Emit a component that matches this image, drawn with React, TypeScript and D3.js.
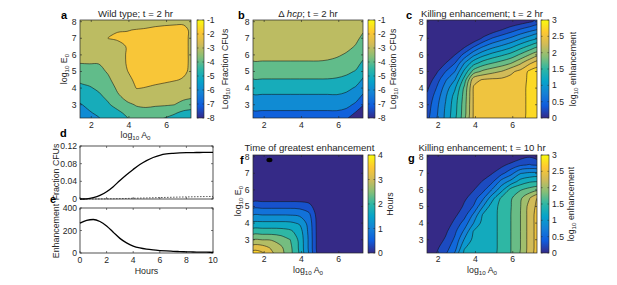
import React from 'react';
import * as d3 from 'd3';

const FONT = "'Liberation Sans', Arial, Helvetica, sans-serif";

// ---------- grid nodes (log10 A0 columns, log10 E0 rows bottom->top) ----------
const LOGA_NODES = [1.4, 1.9, 2.4, 2.9, 3.4, 3.9, 4.4, 4.9, 5.4, 5.9, 6.4, 6.9, 7.4];
const LOGE_NODES = [2.0, 2.5, 3.0, 3.5, 4.0, 4.5, 5.0, 5.5, 6.0, 6.5, 7.0, 7.5, 8.0];
const LOGA_DOMAIN = [1.4, 7.3];
const LOGE_DOMAIN = [2.2, 8.1];
const X_TICKS = [2, 4, 6];
const Y_TICKS = [3, 4, 5, 6, 7, 8];

// a: wild type, log10 fraction CFUs, t = 2 hr
const WT_CFU = [
  [-5.9, -5.44, -5.2, -4.73, -4.76, -4.2, -3.6, -3.5, -3.9, -4.3, -4.6, -4.9, -5.0],
  [-5.5, -5.1, -4.81, -4.42, -4.22, -3.8, -3.25, -3.2, -3.4, -3.57, -3.88, -4.27, -4.4],
  [-5.08, -4.76, -4.48, -4.1, -3.67, -3.15, -2.95, -2.9, -2.9, -2.92, -2.99, -3.29, -3.6],
  [-4.67, -4.43, -4.16, -3.79, -3.13, -2.75, -2.4, -2.4, -2.5, -2.56, -2.65, -2.76, -2.85],
  [-4.25, -4.09, -3.85, -3.47, -2.85, -2.45, -1.98, -2.02, -2.1, -2.2, -2.3, -2.4, -2.5],
  [-3.83, -3.72, -3.56, -3.16, -2.6, -2.2, -1.85, -1.85, -1.85, -1.88, -1.95, -2.05, -2.25],
  [-3.41, -3.35, -3.26, -2.9, -2.45, -2.02, -1.8, -1.75, -1.75, -1.75, -1.8, -1.9, -2.15],
  [-2.99, -2.97, -2.97, -2.65, -2.35, -1.95, -1.75, -1.7, -1.7, -1.72, -1.75, -1.88, -2.12],
  [-2.7, -2.7, -2.7, -2.45, -2.28, -1.95, -1.72, -1.7, -1.7, -1.72, -1.75, -1.88, -2.12],
  [-2.55, -2.5, -2.45, -2.3, -2.25, -1.96, -1.72, -1.7, -1.7, -1.72, -1.75, -1.88, -2.12],
  [-2.45, -2.35, -2.3, -1.99, -1.9, -1.9, -1.8, -1.78, -1.75, -1.75, -1.75, -1.88, -2.12],
  [-2.4, -2.3, -2.2, -2.12, -2.04, -2.02, -1.98, -1.95, -1.9, -1.87, -1.85, -1.88, -2.12],
  [-2.4, -2.3, -2.2, -2.25, -2.2, -2.25, -2.25, -2.2, -2.15, -2.12, -2.1, -2.08, -2.15],
];

// b: delta hcp, log10 fraction CFUs, t = 2 hr
const HCP_CFU = [
  [-6.65, -6.65, -6.65, -6.65, -6.65, -6.65, -6.65, -6.65, -6.65, -6.65, -7.2, -7.8, -8.2],
  [-6.15, -6.15, -6.15, -6.15, -6.15, -6.15, -6.15, -6.15, -6.15, -6.15, -6.3, -7.1, -7.6],
  [-5.64, -5.64, -5.64, -5.64, -5.64, -5.64, -5.64, -5.64, -5.64, -5.62, -5.75, -6.15, -7.1],
  [-5.13, -5.13, -5.13, -5.13, -5.13, -5.13, -5.13, -5.13, -5.13, -5.1, -5.25, -5.6, -6.3],
  [-4.6, -4.6, -4.6, -4.6, -4.6, -4.6, -4.6, -4.6, -4.6, -4.63, -4.75, -5.1, -5.75],
  [-4.05, -4.05, -4.05, -4.05, -4.05, -4.05, -4.05, -4.05, -4.05, -4.1, -4.2, -4.55, -5.25],
  [-3.57, -3.57, -3.57, -3.57, -3.57, -3.57, -3.57, -3.57, -3.6, -3.68, -3.84, -4.05, -4.75],
  [-3.09, -3.09, -3.09, -3.09, -3.09, -3.09, -3.09, -3.09, -3.14, -3.28, -3.48, -3.7, -4.25],
  [-2.75, -2.75, -2.75, -2.75, -2.75, -2.75, -2.75, -2.75, -2.78, -2.88, -3.1, -3.38, -3.85],
  [-2.55, -2.55, -2.55, -2.55, -2.55, -2.55, -2.55, -2.55, -2.57, -2.62, -2.75, -3.06, -3.55],
  [-2.45, -2.45, -2.45, -2.45, -2.45, -2.45, -2.45, -2.45, -2.46, -2.48, -2.55, -2.8, -3.28],
  [-2.4, -2.4, -2.4, -2.4, -2.4, -2.4, -2.4, -2.4, -2.4, -2.42, -2.45, -2.6, -2.95],
  [-2.38, -2.38, -2.38, -2.38, -2.38, -2.38, -2.38, -2.38, -2.38, -2.4, -2.4, -2.5, -2.75],
];

// c: log10 killing enhancement, t = 2 hr
const ENH_2HR = [
  [0.42, 0.71, 1.05, 1.42, 1.89, 2.53, 2.6, 2.6, 2.6, 2.6, 2.6, 2.85, 2.85],
  [0.4, 0.7, 1.05, 1.42, 1.89, 2.53, 2.6, 2.6, 2.6, 2.6, 2.6, 2.85, 2.85],
  [0.36, 0.67, 1.02, 1.4, 1.88, 2.53, 2.6, 2.6, 2.6, 2.6, 2.6, 2.85, 2.85],
  [0.3, 0.6, 0.97, 1.35, 1.85, 2.53, 2.6, 2.6, 2.6, 2.6, 2.6, 2.85, 2.85],
  [0.2, 0.5, 0.87, 1.22, 1.8, 2.53, 2.6, 2.6, 2.6, 2.6, 2.6, 2.85, 2.85],
  [0.08, 0.37, 0.72, 1.0, 1.6, 2.42, 2.52, 2.55, 2.56, 2.58, 2.6, 2.82, 2.85],
  [0, 0.2, 0.5, 0.75, 1.31, 1.86, 2.06, 2.17, 2.26, 2.45, 2.57, 2.8, 2.85],
  [0, 0.02, 0.25, 0.5, 1.0, 1.4, 1.62, 1.75, 1.86, 1.99, 2.21, 2.46, 2.65],
  [0, 0, 0.05, 0.25, 0.58, 0.94, 1.18, 1.34, 1.46, 1.59, 1.79, 2.01, 2.18],
  [0, 0, 0, 0.05, 0.2, 0.48, 0.74, 0.92, 1.05, 1.19, 1.38, 1.56, 1.71],
  [0, 0, 0, 0, 0, 0.05, 0.29, 0.51, 0.65, 0.79, 0.96, 1.12, 1.25],
  [0, 0, 0, 0, 0, 0, 0, 0.1, 0.25, 0.39, 0.54, 0.67, 0.79],
  [0, 0, 0, 0, 0, 0, 0, 0, 0, 0.05, 0.12, 0.22, 0.32],
];

// f: time of greatest enhancement (hours)
const PEAK_TIME = [
  [3.95, 3.8, 3.33, 2.93, 2.51, 1.92, 1.13, 0.2, 0, 0, 0, 0, 0],
  [3.45, 3.4, 3.15, 2.88, 2.5, 1.92, 1.13, 0.2, 0, 0, 0, 0, 0],
  [2.79, 2.79, 2.77, 2.62, 2.4, 1.9, 1.13, 0.2, 0, 0, 0, 0, 0],
  [2.19, 2.19, 2.19, 2.17, 2.08, 1.8, 1.1, 0.2, 0, 0, 0, 0, 0],
  [1.69, 1.69, 1.69, 1.69, 1.67, 1.55, 1.05, 0.2, 0, 0, 0, 0, 0],
  [1.19, 1.19, 1.19, 1.19, 1.18, 1.12, 0.9, 0.18, 0, 0, 0, 0, 0],
  [0.69, 0.69, 0.69, 0.69, 0.69, 0.67, 0.55, 0.12, 0, 0, 0, 0, 0],
  [0.2, 0.2, 0.2, 0.2, 0.2, 0.2, 0.18, 0.05, 0, 0, 0, 0, 0],
  [0, 0, 0, 0, 0, 0, 0, 0, 0, 0, 0, 0, 0],
  [0, 0, 0, 0, 0, 0, 0, 0, 0, 0, 0, 0, 0],
  [0, 0, 0, 0, 0, 0, 0, 0, 0, 0, 0, 0, 0],
  [0, 0, 0, 0, 0, 0, 0, 0, 0, 0, 0, 0, 0],
  [0, 0, 0, 0, 0, 0, 0, 0, 0, 0, 0, 0, 0],
];
const PEAK_DOT = [2.28, 7.8];

// g: log10 killing enhancement, t = 10 hr
const ENH_10HR = [
  [0.1, 0.27, 0.47, 0.85, 1.3, 1.33, 1.36, 1.42, 1.57, 1.75, 1.99, 2.36, 2.65],
  [0.05, 0.2, 0.4, 0.66, 1.24, 1.32, 1.35, 1.42, 1.57, 1.75, 1.99, 2.36, 2.65],
  [0, 0.1, 0.29, 0.55, 1.02, 1.32, 1.35, 1.42, 1.57, 1.75, 1.99, 2.36, 2.65],
  [0, 0.02, 0.2, 0.45, 0.8, 1.27, 1.35, 1.42, 1.57, 1.75, 1.99, 2.36, 2.65],
  [0, 0, 0.1, 0.32, 0.6, 1.0, 1.35, 1.42, 1.57, 1.75, 1.99, 2.36, 2.65],
  [0, 0, 0, 0.2, 0.4, 0.8, 1.28, 1.42, 1.57, 1.75, 1.99, 2.36, 2.65],
  [0, 0, 0, 0.05, 0.3, 0.52, 0.99, 1.4, 1.57, 1.74, 1.98, 2.35, 2.6],
  [0, 0, 0, 0, 0.2, 0.38, 0.7, 1.16, 1.55, 1.72, 1.95, 2.24, 2.56],
  [0, 0, 0, 0, 0.1, 0.24, 0.42, 0.78, 1.17, 1.6, 1.73, 1.85, 1.92],
  [0, 0, 0, 0, 0, 0.12, 0.27, 0.45, 0.85, 1.08, 1.35, 1.47, 1.5],
  [0, 0, 0, 0, 0, 0, 0.12, 0.24, 0.43, 0.66, 0.98, 1.05, 1.05],
  [0, 0, 0, 0, 0, 0, 0, 0.05, 0.18, 0.33, 0.46, 0.52, 0.42],
  [0, 0, 0, 0, 0, 0, 0, 0, 0, 0, 0.15, 0.23, 0.1],
];

// contour levels and colour bar ticks
const CFU_LEVELS = [-7, -6, -5, -4, -3, -2];
const ENH_LEVELS = [0.25, 0.5, 0.75, 1, 1.25, 1.5, 1.75, 2, 2.25, 2.5, 2.75];
const TIME_LEVELS = [0.4, 0.8, 1.2, 1.6, 2.0, 2.4, 2.8, 3.2, 3.6];
const CFU_TICKS = [-1, -2, -3, -4, -5, -6, -7, -8];
const ENH_TICKS = [0, 0.5, 1, 1.5, 2, 2.5, 3];
const TIME_TICKS = [0, 1, 2, 3, 4];

// d, e: time courses
const HOURS = [0, 0.5, 1, 1.5, 2, 2.5, 3, 3.5, 4, 4.5, 5, 5.5, 6, 6.5, 7, 7.5, 8, 8.5, 9, 9.5, 10];
const WT_FRACTION = [0, 0.0005, 0.003, 0.008, 0.0165, 0.028, 0.042, 0.055, 0.067, 0.078, 0.087, 0.094, 0.099, 0.102, 0.1035, 0.1045, 0.105, 0.1052, 0.1053, 0.1054, 0.1055];
const HCP_FRACTION = [0, 0.00005, 0.0001, 0.0002, 0.0004, 0.0006, 0.0009, 0.0012, 0.0016, 0.002, 0.0024, 0.0028, 0.0032, 0.0036, 0.004, 0.0044, 0.0047, 0.005, 0.0053, 0.0056, 0.0058];
const ENHANCEMENT = [265, 290, 298, 280, 240, 185, 130, 90, 62, 45, 34, 27, 22, 18, 15, 12.5, 10.5, 9, 8, 7, 6];
const HOUR_TICKS = [0, 2, 4, 6, 8, 10];
const FRAC_TICKS = [0, 0.04, 0.08, 0.12];
const ENHC_TICKS = [0, 200, 400];

const PARULA = ['#352a87', '#0f5cdd', '#1481d6', '#06a4ca', '#2eb7a4', '#87bf77', '#d1bb59', '#fec832', '#f9fb0e'];
const parulaScale = d3
  .scaleLinear<string>()
  .domain(PARULA.map((_, i) => i / (PARULA.length - 1)))
  .range(PARULA)
  .interpolate(d3.interpolateRgb)
  .clamp(true);

const TICK_FS = 8.6;
const LABEL_FS = 8.8;
const TITLE_FS = 9.6;
const SUB_FS = 6.2;

function LogSub({ name }: { name: string }) {
  return (
    <>
      log
      <tspan dy={2.3} fontSize={SUB_FS}>10</tspan>
      <tspan dy={-2.3}> {name}</tspan>
      <tspan dy={2.3} fontSize={SUB_FS}>0</tspan>
    </>
  );
}

type CP = {
  id: string;
  grid: number[][];
  levels: number[];
  cmin: number;
  cmax: number;
  x: number;
  y: number;
  w: number;
  h: number;
  tickDy: number;
  children?: React.ReactNode;
};

function ContourPlot({ id, grid, levels, cmin, cmax, x, y, w, h, tickDy, children }: CP) {
  const xs = d3.scaleLinear().domain(LOGA_DOMAIN).range([x, x + w]);
  const ys = d3.scaleLinear().domain(LOGE_DOMAIN).range([y + h, y]);
  const n = LOGA_NODES.length;
  const m = LOGE_NODES.length;
  const dx = LOGA_NODES[1] - LOGA_NODES[0];
  const dy = LOGE_NODES[1] - LOGE_NODES[0];
  const values = grid.flat();
  const cs = (d3.contours() as any).size([n, m]).thresholds(levels)(values) as any[];
  const color = (v: number) => parulaScale((v - cmin) / (cmax - cmin));
  const line = d3.line<[number, number]>().curve(d3.curveCatmullRomClosed.alpha(0.5));
  const toPx = (p: number[]): [number, number] => [
    xs(LOGA_NODES[0] + (p[0] - 0.5) * dx),
    ys(LOGE_NODES[0] + (p[1] - 0.5) * dy),
  ];
  const pathFor = (mp: any) =>
    mp.coordinates
      .map((poly: number[][][]) => poly.map((ring) => line(ring.slice(0, -1).map(toPx)) || '').join(''))
      .join('');
  const paths = cs.map((c) => ({ value: c.value as number, d: pathFor(c) }));
  const tl = 2;
  return (
    <g>
      <defs>
        <clipPath id={id}>
          <rect x={x} y={y} width={w} height={h} />
        </clipPath>
      </defs>
      <g clipPath={`url(#${id})`}>
        <rect x={x} y={y} width={w} height={h} fill={color(cmin)} />
        {paths.map((p, i) => (
          <path key={'f' + i} d={p.d} fill={color(p.value)} fillRule="evenodd" />
        ))}
        {paths.map((p, i) => (
          <path key={'s' + i} d={p.d} fill="none" stroke="#111" strokeWidth={0.55} strokeLinejoin="round" />
        ))}
        {children}
      </g>
      <rect x={x} y={y} width={w} height={h} fill="none" stroke="#262626" strokeWidth={0.7} />
      {X_TICKS.map((t) => (
        <g key={'xt' + t}>
          <line x1={xs(t)} x2={xs(t)} y1={y + h} y2={y + h - tl} stroke="#262626" strokeWidth={0.6} />
          <line x1={xs(t)} x2={xs(t)} y1={y} y2={y + tl} stroke="#262626" strokeWidth={0.6} />
          <text x={xs(t)} y={y + h + tickDy} fontSize={TICK_FS} textAnchor="middle" fill="#262626">
            {t}
          </text>
        </g>
      ))}
      {Y_TICKS.map((t) => (
        <g key={'yt' + t}>
          <line x1={x} x2={x + tl} y1={ys(t)} y2={ys(t)} stroke="#262626" strokeWidth={0.6} />
          <line x1={x + w} x2={x + w - tl} y1={ys(t)} y2={ys(t)} stroke="#262626" strokeWidth={0.6} />
          <text x={x - 3.5} y={ys(t) + 3} fontSize={TICK_FS} textAnchor="end" fill="#262626">
            {t}
          </text>
        </g>
      ))}
    </g>
  );
}

type CB = {
  id: string;
  x: number;
  y: number;
  w: number;
  h: number;
  min: number;
  max: number;
  ticks: number[];
  label: React.ReactNode;
  labelX: number;
};

function Colorbar({ id, x, y, w, h, min, max, ticks, label, labelX }: CB) {
  const s = d3.scaleLinear().domain([min, max]).range([y + h, y]);
  return (
    <g>
      <defs>
        <linearGradient id={id} x1="0" y1="1" x2="0" y2="0">
          {PARULA.map((c, i) => (
            <stop key={i} offset={i / (PARULA.length - 1)} stopColor={c} />
          ))}
        </linearGradient>
      </defs>
      <rect x={x} y={y} width={w} height={h} fill={`url(#${id})`} stroke="#262626" strokeWidth={0.6} />
      {ticks.map((t) => (
        <g key={t}>
          <line x1={x} x2={x + 1.6} y1={s(t)} y2={s(t)} stroke="#262626" strokeWidth={0.5} />
          <line x1={x + w} x2={x + w - 1.6} y1={s(t)} y2={s(t)} stroke="#262626" strokeWidth={0.5} />
          <text x={x + w + 3} y={s(t) + 3} fontSize={TICK_FS} fill="#262626">
            {t}
          </text>
        </g>
      ))}
      <text
        transform={`translate(${labelX},${y + h / 2}) rotate(-90)`}
        dy="0.35em"
        fontSize={LABEL_FS}
        textAnchor="middle"
        fill="#262626"
      >
        {label}
      </text>
    </g>
  );
}

function LinePanels() {
  const xs = d3.scaleLinear().domain([0, 10]).range([80, 213]);
  const yd = d3.scaleLinear().domain([0, 0.12]).range([199, 146]);
  const ye = d3.scaleLinear().domain([0, 400]).range([253, 208]);
  const mk = (sc: d3.ScaleLinear<number, number>) =>
    d3
      .line<number>()
      .x((_, i) => xs(HOURS[i]))
      .y((v) => sc(v))
      .curve(d3.curveMonotoneX);
  const tl = 2;
  const frame = (top: number, bottom: number) => (
    <>
      <rect x={80} y={top} width={133} height={bottom - top} fill="none" stroke="#262626" strokeWidth={0.8} />
      {HOUR_TICKS.map((t) => (
        <g key={t}>
          <line x1={xs(t)} x2={xs(t)} y1={bottom} y2={bottom - tl} stroke="#262626" strokeWidth={0.6} />
          <line x1={xs(t)} x2={xs(t)} y1={top} y2={top + tl} stroke="#262626" strokeWidth={0.6} />
        </g>
      ))}
    </>
  );
  return (
    <g fill="#262626">
      {frame(146, 199)}
      {FRAC_TICKS.map((t) => (
        <g key={t}>
          <line x1={80} x2={80 + tl} y1={yd(t)} y2={yd(t)} stroke="#262626" strokeWidth={0.6} />
          <line x1={213} x2={213 - tl} y1={yd(t)} y2={yd(t)} stroke="#262626" strokeWidth={0.6} />
          <text x={77} y={yd(t) + 3} fontSize={TICK_FS} textAnchor="end">
            {t}
          </text>
        </g>
      ))}
      <path d={mk(yd)(HCP_FRACTION) || ''} fill="none" stroke="#333" strokeWidth={0.8} strokeDasharray="1.6,1.4" />
      <path d={mk(yd)(WT_FRACTION) || ''} fill="none" stroke="#000" strokeWidth={1.3} />
      {frame(208, 253)}
      {ENHC_TICKS.map((t) => (
        <g key={t}>
          <line x1={80} x2={80 + tl} y1={ye(t)} y2={ye(t)} stroke="#262626" strokeWidth={0.6} />
          <line x1={213} x2={213 - tl} y1={ye(t)} y2={ye(t)} stroke="#262626" strokeWidth={0.6} />
          <text x={77} y={ye(t) + 3} fontSize={TICK_FS} textAnchor="end">
            {t}
          </text>
        </g>
      ))}
      {HOUR_TICKS.map((t) => (
        <text key={t} x={xs(t)} y={262.5} fontSize={TICK_FS} textAnchor="middle">
          {t}
        </text>
      ))}
      <path d={mk(ye)(ENHANCEMENT) || ''} fill="none" stroke="#000" strokeWidth={1.3} />
      <text x={146.5} y={273.5} fontSize={LABEL_FS} textAnchor="middle">
        Hours
      </text>
      <text transform="translate(56,172) rotate(-90)" dy="0.35em" fontSize={LABEL_FS} textAnchor="middle">
        Fraction CFUs
      </text>
      <text transform="translate(56,231) rotate(-90)" dy="0.35em" fontSize={LABEL_FS} textAnchor="middle">
        Enhancement
      </text>
    </g>
  );
}

export default function App() {
  const fx = d3.scaleLinear().domain(LOGA_DOMAIN).range([253, 363]);
  const fy = d3.scaleLinear().domain(LOGE_DOMAIN).range([253, 155]);
  const letter = (t: string, x: number, y: number) => (
    <text x={x} y={y} fontSize={11} fontWeight="bold" fill="#000">
      {t}
    </text>
  );
  const title = (x: number, y: number, content: React.ReactNode) => (
    <text x={x} y={y} fontSize={TITLE_FS} textAnchor="middle" fill="#262626">
      {content}
    </text>
  );
  return (
    <svg
      width={617}
      height={285}
      style={{ position: 'absolute', left: 0, top: 0 }}
      fontFamily={FONT}
    >
      <rect width={617} height={285} fill="#fff" />

      {/* a */}
      <ContourPlot id="ca" grid={WT_CFU} levels={CFU_LEVELS} cmin={-8} cmax={-1} x={80} y={20} w={111} h={98} tickDy={9.5} />
      <Colorbar id="ga" x={197} y={20} w={7} h={98} min={-8} max={-1} ticks={CFU_TICKS} labelX={225}
        label={<>Log<tspan dy={2.3} fontSize={SUB_FS}>10</tspan><tspan dy={-2.3}> Fraction CFUs</tspan></>} />
      {title(135.5, 16.5, 'Wild type; t = 2 hr')}
      {letter('a', 61, 19)}
      <text x={135.5} y={138} fontSize={LABEL_FS} textAnchor="middle" fill="#262626"><LogSub name="A" /></text>
      <text transform="translate(64,69) rotate(-90)" dy="0.35em" fontSize={LABEL_FS} textAnchor="middle" fill="#262626"><LogSub name="E" /></text>

      {/* b */}
      <ContourPlot id="cb" grid={HCP_CFU} levels={CFU_LEVELS} cmin={-8} cmax={-1} x={253} y={20} w={110} h={98} tickDy={9.5} />
      <Colorbar id="gb" x={368} y={20} w={7} h={98} min={-8} max={-1} ticks={CFU_TICKS} labelX={393}
        label={<>Log<tspan dy={2.3} fontSize={SUB_FS}>10</tspan><tspan dy={-2.3}> Fraction CFUs</tspan></>} />
      {title(308, 16.5, <>Δ <tspan fontStyle="italic">hcp</tspan>; t = 2 hr</>)}
      {letter('b', 238, 19)}

      {/* c */}
      <ContourPlot id="cc" grid={ENH_2HR} levels={ENH_LEVELS} cmin={0} cmax={3} x={427} y={20} w={110} h={98} tickDy={9.5} />
      <Colorbar id="gc" x={541} y={20} w={8} h={98} min={0} max={3} ticks={ENH_TICKS} labelX={573}
        label={<>log<tspan dy={2.3} fontSize={SUB_FS}>10</tspan><tspan dy={-2.3}> enhancement</tspan></>} />
      {title(482, 16.5, 'Killing enhancement; t = 2 hr')}
      {letter('c', 406, 19)}

      {/* d, e */}
      <LinePanels />
      {letter('d', 60, 137)}
      {letter('e', 50, 203)}

      {/* f */}
      <ContourPlot id="cf" grid={PEAK_TIME} levels={TIME_LEVELS} cmin={0} cmax={4} x={253} y={155} w={110} h={98} tickDy={8.5}>
        <ellipse cx={fx(PEAK_DOT[0])} cy={fy(PEAK_DOT[1])} rx={3} ry={2.2} fill="#000" />
      </ContourPlot>
      <Colorbar id="gf" x={368} y={155} w={7} h={98} min={0} max={4} ticks={TIME_TICKS} labelX={390} label="Hours" />
      {title(309.5, 151, 'Time of greatest enhancement')}
      {letter('f', 240, 164)}
      <text x={308} y={273} fontSize={LABEL_FS} textAnchor="middle" fill="#262626"><LogSub name="A" /></text>
      <text transform="translate(238,201) rotate(-90)" dy="0.35em" fontSize={LABEL_FS} textAnchor="middle" fill="#262626"><LogSub name="E" /></text>

      {/* g */}
      <ContourPlot id="cg" grid={ENH_10HR} levels={ENH_LEVELS} cmin={0} cmax={3} x={427} y={155} w={110} h={98} tickDy={8.5} />
      <Colorbar id="gg" x={541} y={155} w={8} h={98} min={0} max={3} ticks={ENH_TICKS} labelX={571}
        label={<>log<tspan dy={2.3} fontSize={SUB_FS}>10</tspan><tspan dy={-2.3}> enhancement</tspan></>} />
      {title(482, 151, 'Killing enhancement; t = 10 hr')}
      {letter('g', 408, 162)}
      <text x={482} y={273} fontSize={LABEL_FS} textAnchor="middle" fill="#262626"><LogSub name="A" /></text>
    </svg>
  );
}
